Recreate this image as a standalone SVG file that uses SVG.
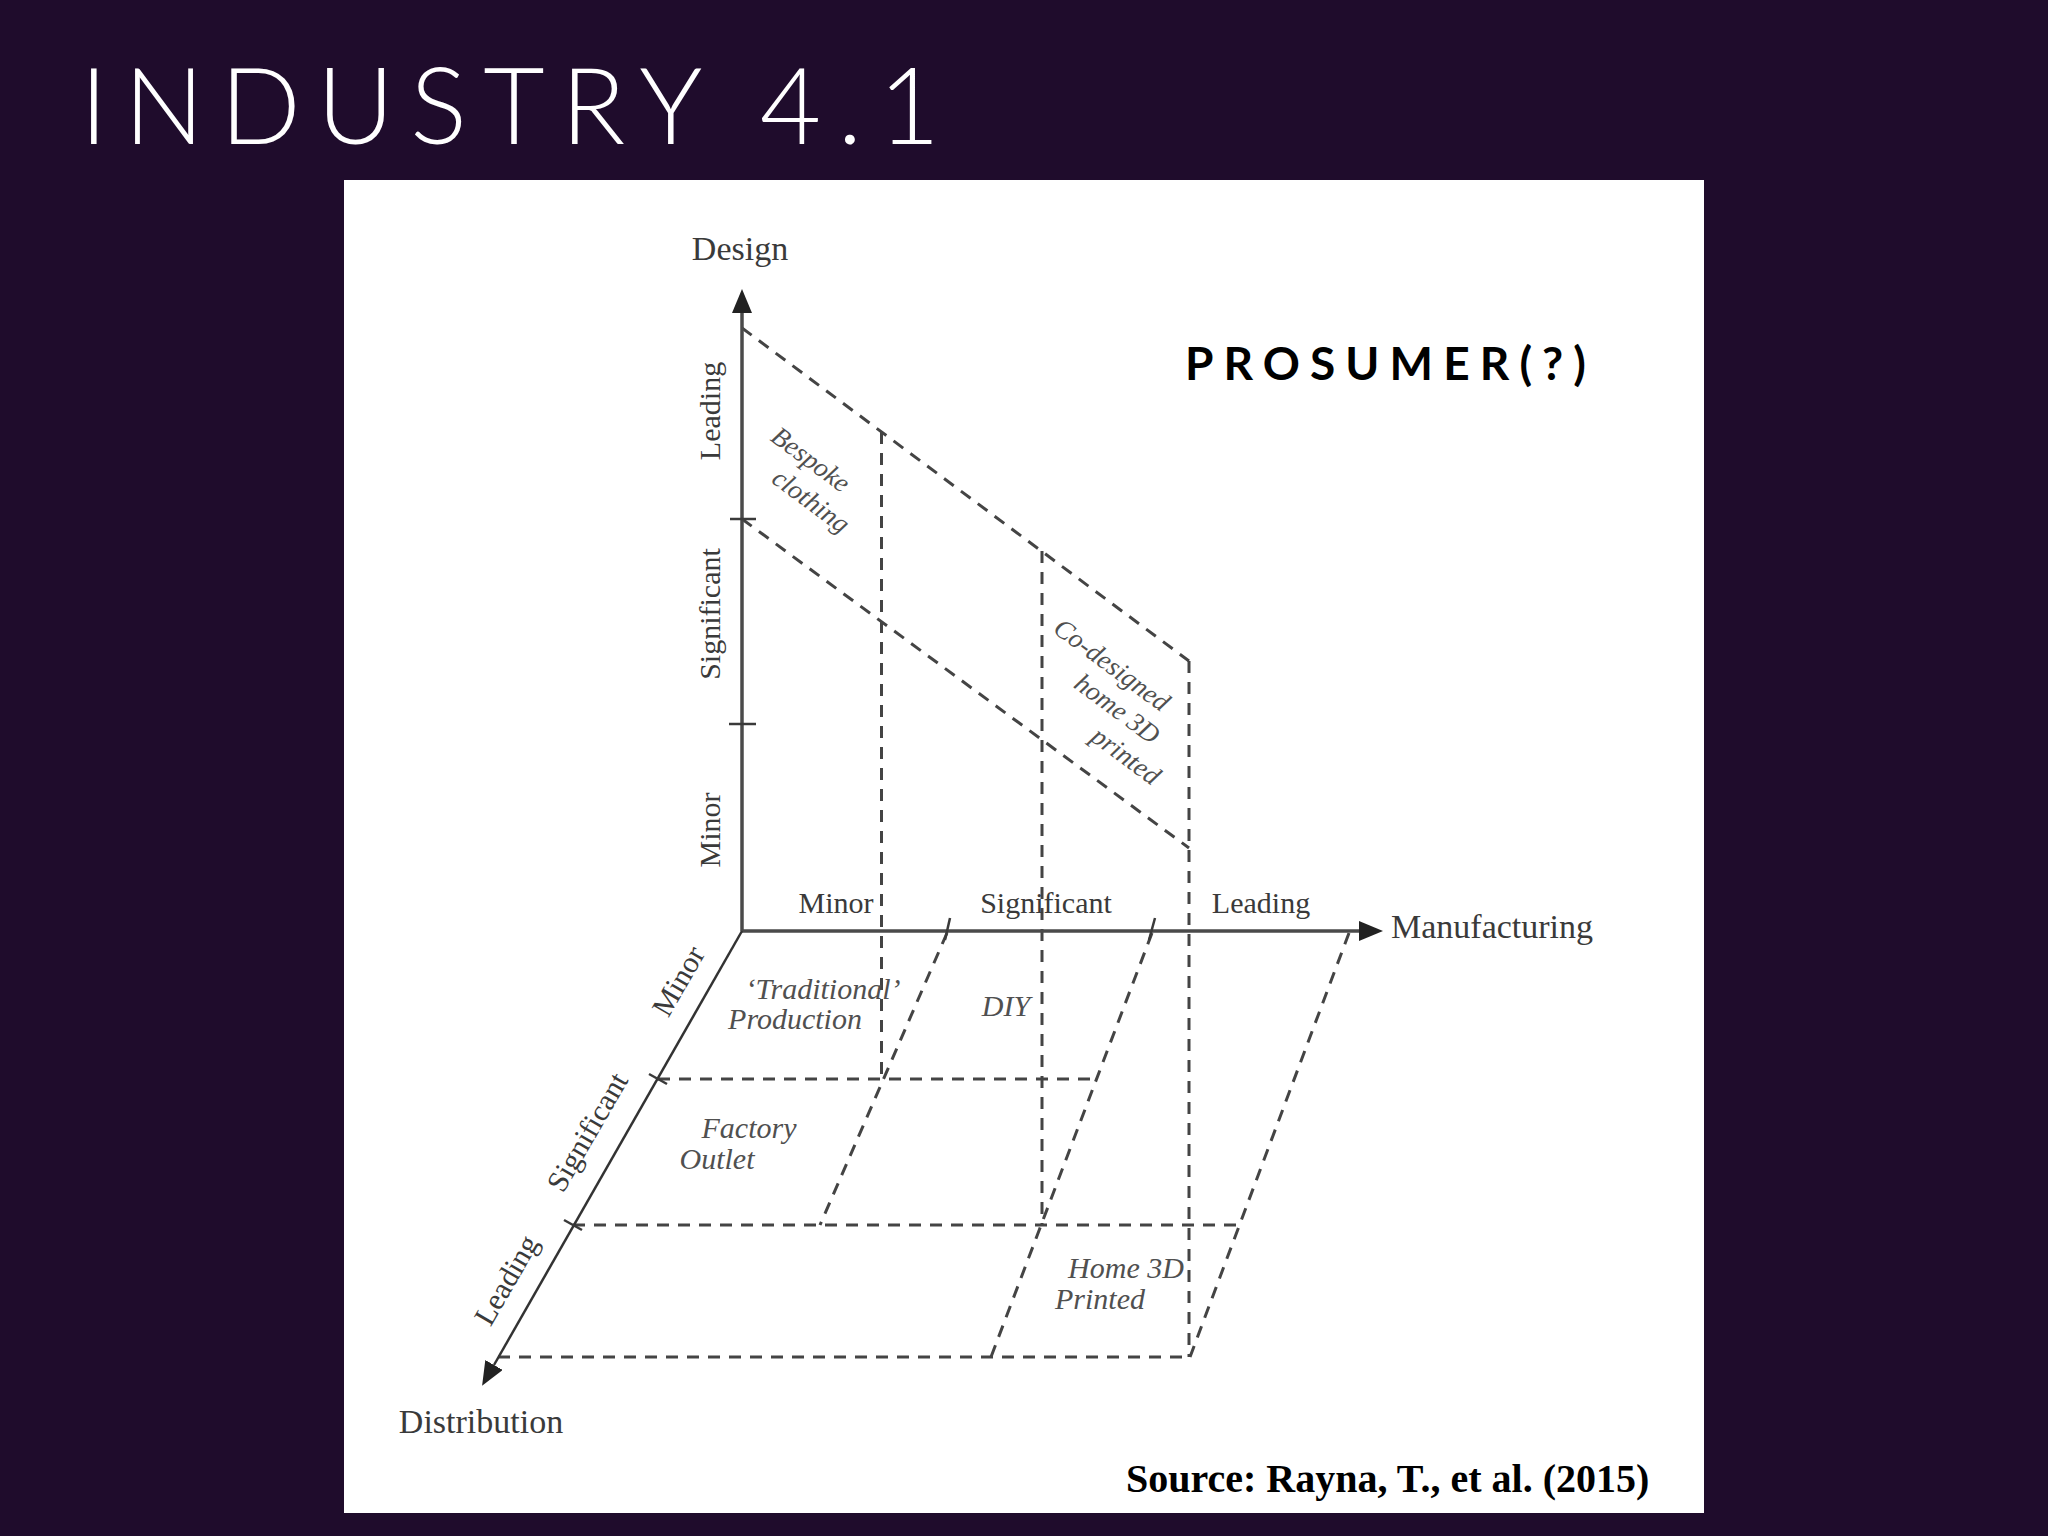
<svg xmlns="http://www.w3.org/2000/svg" width="2048" height="1536" viewBox="0 0 2048 1536">
  <defs>
    <marker id="ah" viewBox="0 0 24 20" markerWidth="24" markerHeight="20" refX="0" refY="10" orient="auto" markerUnits="userSpaceOnUse">
      <path d="M0,0 L24,10 L0,20 z" fill="#222"/>
    </marker>
    <style>
      .axis { stroke: #4a4a4a; stroke-width: 3.5; fill: none; }
      .axis-thin { stroke: #333; stroke-width: 2.5; fill: none; }
      .tick { stroke: #3a3a3a; stroke-width: 2.5; fill: none; }
      .dash { stroke: #444; stroke-width: 3; fill: none; stroke-dasharray: 12 9; }
      .ax-title { font-family: "Liberation Serif", "Times New Roman", serif; font-size: 34px; fill: #3a3a3a; }
      .ax-lab { font-family: "Liberation Serif", "Times New Roman", serif; font-size: 30px; fill: #3a3a3a; }
      .it { font-family: "Liberation Serif", "Times New Roman", serif; font-style: italic; font-size: 30px; fill: #505050; }
      .it-rot { font-family: "Liberation Serif", "Times New Roman", serif; font-style: italic; font-size: 27px; fill: #505050; }
    </style>
  </defs>

  <rect id="background" x="0" y="0" width="2048" height="1536" fill="#1f0c2c"/>

  <g id="title">
    <text x="80" y="144" font-family="Lato, 'Noto Sans', sans-serif" font-weight="300" font-size="106" fill="#ffffff" textLength="860" lengthAdjust="spacing">INDUSTRY 4.1</text>
  </g>

  <rect id="panel" x="344" y="180" width="1360" height="1333" fill="#ffffff"/>

  <g id="prosumer">
    <text x="1185" y="380" font-family="Lato, 'Noto Sans', sans-serif" font-weight="700" font-size="46" fill="#000000" textLength="401" lengthAdjust="spacing">PROSUMER(?)</text>
  </g>

  <g id="connectors">
    <!-- upper (design) plane -->
    <line class="dash" x1="742" y1="328" x2="1189" y2="661"/>
    <line class="dash" x1="742" y1="519" x2="1189" y2="848"/>
    <line class="dash" x1="881.5" y1="432" x2="881.5" y2="1079"/>
    <line class="dash" x1="1042" y1="551" x2="1042" y2="1225"/>
    <line class="dash" x1="1189" y1="661" x2="1189" y2="1357"/>
    <!-- floor plane -->
    <line class="dash" x1="658" y1="1079" x2="1097" y2="1079"/>
    <line class="dash" x1="573" y1="1225" x2="1241" y2="1225"/>
    <line class="dash" x1="498" y1="1357" x2="1190" y2="1357"/>
    <line class="dash" x1="947" y1="933" x2="820" y2="1225"/>
    <line class="dash" x1="1152" y1="933" x2="991" y2="1357"/>
    <line class="dash" x1="1349" y1="933" x2="1190" y2="1357"/>
  </g>

  <g id="axis-design">
    <line class="axis" x1="742" y1="931" x2="742" y2="313" marker-end="url(#ah)"/>
    <line class="tick" x1="730" y1="519" x2="756" y2="519"/>
    <line class="tick" x1="729" y1="724" x2="756" y2="724"/>
    <text class="ax-title" x="740" y="260" text-anchor="middle">Design</text>
    <text class="ax-lab" transform="translate(720,411) rotate(-90)" text-anchor="middle">Leading</text>
    <text class="ax-lab" transform="translate(720,614) rotate(-90)" text-anchor="middle">Significant</text>
    <text class="ax-lab" transform="translate(720,830) rotate(-90)" text-anchor="middle">Minor</text>
  </g>

  <g id="axis-manufacturing">
    <line class="axis" x1="742" y1="931" x2="1359" y2="931" marker-end="url(#ah)"/>
    <line class="tick" x1="950" y1="918" x2="945" y2="940"/>
    <line class="tick" x1="1155" y1="918" x2="1149" y2="940"/>
    <text class="ax-title" x="1391" y="938">Manufacturing</text>
    <text class="ax-lab" x="836" y="913" text-anchor="middle">Minor</text>
    <text class="ax-lab" x="1046" y="913" text-anchor="middle">Significant</text>
    <text class="ax-lab" x="1261" y="913" text-anchor="middle">Leading</text>
  </g>

  <g id="axis-distribution">
    <line class="axis-thin" x1="742" y1="931" x2="494" y2="1365" marker-end="url(#ah)"/>
    <line class="tick" x1="649" y1="1074" x2="667" y2="1084"/>
    <line class="tick" x1="564" y1="1220" x2="582" y2="1230"/>
    <text class="ax-title" x="481" y="1433" text-anchor="middle">Distribution</text>
    <text class="ax-lab" transform="translate(687,986) rotate(-60)" text-anchor="middle">Minor</text>
    <text class="ax-lab" transform="translate(596,1137) rotate(-60)" text-anchor="middle">Significant</text>
    <text class="ax-lab" transform="translate(515,1285) rotate(-60)" text-anchor="middle">Leading</text>
  </g>

  <g id="node-bespoke">
    <text class="it-rot" transform="translate(805.5,466.5) rotate(36.5)" text-anchor="middle">Bespoke</text>
    <text class="it-rot" transform="translate(805.7,508) rotate(36.5)" text-anchor="middle">clothing</text>
  </g>

  <g id="node-codesigned">
    <text class="it-rot" transform="translate(1106.5,672) rotate(36.5)" text-anchor="middle">Co-designed</text>
    <text class="it-rot" transform="translate(1112,716) rotate(36.5)" text-anchor="middle">home 3D</text>
    <text class="it-rot" transform="translate(1120.7,763) rotate(36.5)" text-anchor="middle">printed</text>
  </g>

  <g id="node-traditional">
    <text class="it" x="823" y="999" text-anchor="middle">‘Traditional’</text>
    <text class="it" x="795" y="1029" text-anchor="middle">Production</text>
  </g>

  <g id="node-diy">
    <text class="it" x="1006" y="1016" text-anchor="middle">DIY</text>
  </g>

  <g id="node-factory">
    <text class="it" x="749" y="1138" text-anchor="middle">Factory</text>
    <text class="it" x="717" y="1169" text-anchor="middle">Outlet</text>
  </g>

  <g id="node-home3d">
    <text class="it" x="1126" y="1278" text-anchor="middle">Home 3D</text>
    <text class="it" x="1100" y="1309" text-anchor="middle">Printed</text>
  </g>

  <g id="source">
    <text x="1126" y="1492" font-family="'Liberation Serif', 'Times New Roman', serif" font-weight="700" font-size="40" fill="#000000">Source: Rayna, T., et al. (2015)</text>
  </g>
</svg>
